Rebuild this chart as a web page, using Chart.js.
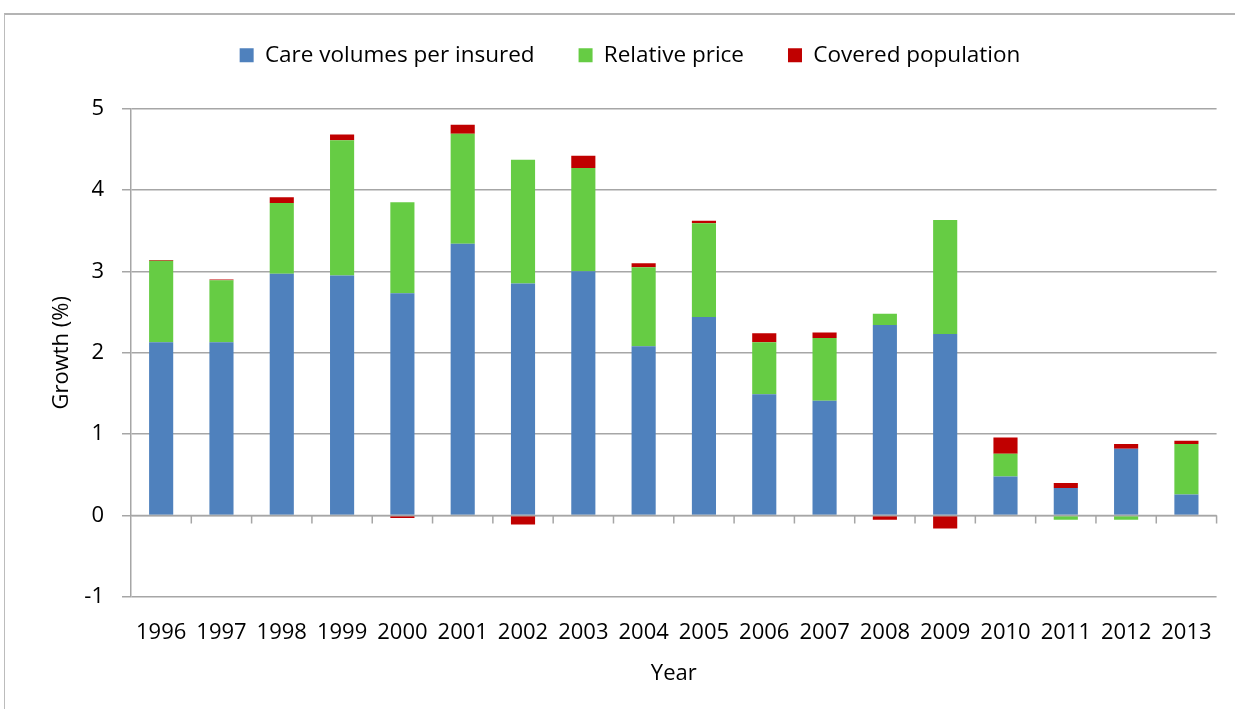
<!DOCTYPE html>
<html>
<head>
<meta charset="utf-8">
<script src="https://cdn.jsdelivr.net/npm/chart.js@4/dist/chart.umd.min.js"></script>
<style>
  html, body { margin: 0; padding: 0; background: #fff; overflow: hidden; }
  #frame { position: absolute; left: 4px; top: 13px; width: 1300px; height: 800px;
           border-top: 2px solid #b4b4b4; border-left: 1px solid #bcbcbc; }
  #graphique { position: absolute; left: 0; top: 0; }
</style>
</head>
<body>
<div id="frame"></div>
<canvas id="graphique" width="1235" height="709"></canvas>
<script>
// données (croissance en %)
var annees = ['1996', '1997', '1998', '1999', '2000', '2001', '2002', '2003', '2004',
              '2005', '2006', '2007', '2008', '2009', '2010', '2011', '2012', '2013'];
var volumesSoins = [2.13, 2.13, 2.97, 2.95, 2.73, 3.34, 2.85, 3.00, 2.08,
                    2.44, 1.49, 1.41, 2.34, 2.23, 0.48, 0.34, 0.82, 0.26];
var prixRelatif = [1.00, 0.76, 0.87, 1.66, 1.12, 1.35, 1.52, 1.27, 0.97,
                   1.15, 0.64, 0.77, 0.14, 1.40, 0.28, -0.05, -0.05, 0.62];
var populationCouverte = [0.01, 0.01, 0.07, 0.07, -0.03, 0.11, -0.11, 0.15, 0.05,
                          0.03, 0.11, 0.07, -0.05, -0.16, 0.20, 0.06, 0.06, 0.04];
var ticksY = [-1, 0, 1, 2, 3, 4, 5];

var police = { family: 'Open Sans', size: 22 };
var policeLegende = { family: 'Open Sans', size: 22.5 };
var gris = '#a6a6a6';

// axe horizontal à zéro avec ses petites graduations
var axeZero = {
  id: 'axeZero',
  afterDatasetsDraw: function(chart) {
    var ctx = chart.ctx;
    var x = chart.scales.x, y = chart.scales.y;
    var y0 = y.getPixelForValue(0);
    ctx.save();
    ctx.strokeStyle = gris;
    ctx.lineWidth = 1.5;
    ctx.beginPath();
    ctx.moveTo(chart.chartArea.left, y0);
    ctx.lineTo(chart.chartArea.right, y0);
    for (var i = 0; i < annees.length; i++) {
      var xb = i < annees.length - 1
        ? (x.getPixelForValue(i) + x.getPixelForValue(i + 1)) / 2
        : chart.chartArea.right;
      ctx.moveTo(xb, y0);
      ctx.lineTo(xb, y0 + 8);
    }
    ctx.stroke();
    ctx.restore();
  }
};

// un peu d'espace entre la légende et le graphique
var espaceLegende = {
  id: 'espaceLegende',
  afterInit: function(chart) {
    var fit = chart.legend.fit;
    chart.legend.fit = function() {
      fit.call(this);
      this.height += 32;
    };
  }
};

document.addEventListener('DOMContentLoaded', function() {
  var ctx = document.getElementById('graphique').getContext('2d');
  var chart = new Chart(ctx, {
    type: 'bar',
    data: {
      labels: annees,
      datasets: [{
        label: 'Care volumes per insured',
        data: volumesSoins,
        backgroundColor: '#4f81bd'
      }, {
        label: 'Relative price',
        data: prixRelatif,
        backgroundColor: '#66cc44'
      }, {
        label: 'Covered population',
        data: populationCouverte,
        backgroundColor: '#c00000'
      }]
    },
    plugins: [axeZero, espaceLegende],
    options: {
      responsive: false,
      animation: false,
      layout: { padding: { left: 40, right: 15, top: 0, bottom: 20 } },
      datasets: { bar: { categoryPercentage: 1, barPercentage: 0.4 } },
      plugins: {
        tooltip: { enabled: false },
        legend: {
          position: 'top',
          labels: {
            boxWidth: 14,
            boxHeight: 14,
            padding: 44,
            color: '#000',
            font: policeLegende
          }
        }
      },
      scales: {
        x: {
          stacked: true,
          grid: { display: false, drawTicks: false },
          border: { display: false },
          ticks: { color: '#000', font: police, padding: 23, maxRotation: 0, autoSkip: false },
          title: { display: true, text: 'Year', color: '#000', font: police, padding: { top: 0, bottom: 2 } },
          afterFit: function(scale) { scale.height = 92; }
        },
        y: {
          stacked: true,
          min: -1,
          max: 5,
          afterBuildTicks: function(scale) {
            scale.ticks = ticksY.map(function(v) { return { value: v }; });
          },
          grid: { color: gris, lineWidth: 1.5, tickLength: 9 },
          border: { display: true, color: gris, width: 1.5 },
          ticks: { color: '#000', font: police, padding: 18 },
          title: { display: true, text: 'Growth (%)', color: '#000', font: police, padding: { top: 9, bottom: 0 } },
          afterFit: function(scale) { scale.width = 91; }
        }
      }
    }
  });
});
</script>
</body>
</html>
